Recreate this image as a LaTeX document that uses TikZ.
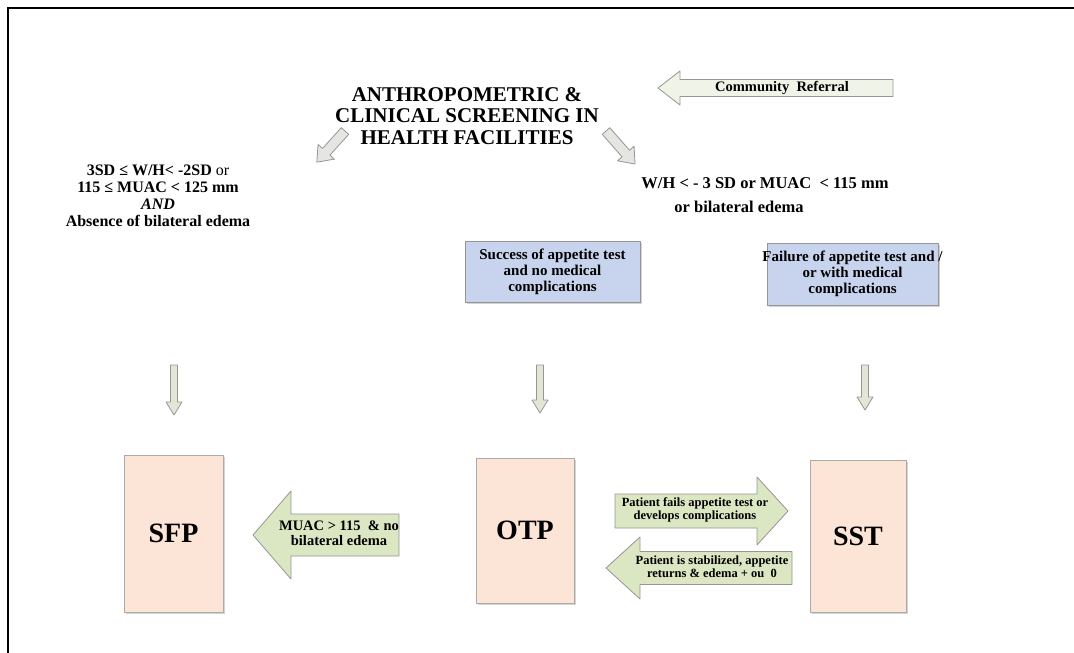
\documentclass[tikz,border=0pt]{standalone}
\usepackage{fontspec}
\setmainfont{Liberation Serif}
\usetikzlibrary{shadows}
\definecolor{arrgreen}{RGB}{219,230,194}
\definecolor{arrref}{RGB}{240,243,232}
\definecolor{arrdiag}{RGB}{229,229,225}
\definecolor{arrdown}{RGB}{226,231,213}
\definecolor{arredge}{RGB}{150,150,150}
\definecolor{boxblue}{RGB}{200,212,237}
\definecolor{boxpink}{RGB}{252,229,215}
\newcommand{\blockarr}[7]{%
  \begin{scope}[shift={#2},rotate=#3]
    \draw[#1] (0,-#5)--(#4-#7,-#5)--(#4-#7,-#6)--(#4,0)--(#4-#7,#6)--(#4-#7,#5)--(0,#5)--cycle;
  \end{scope}}
\begin{document}
\begin{tikzpicture}[x=1pt,y=-1pt,
  arrbase/.style={draw=arredge,line width=0.8pt,line join=round},
  garr/.style={arrbase,fill=arrgreen},
  rarr/.style={arrbase,fill=arrref},
  darr/.style={arrbase,fill=arrdiag},
  varr/.style={arrbase,fill=arrdown},
  bluebox/.style={draw=arredge,line width=0.6pt,fill=boxblue,drop shadow={opacity=0.35,shadow xshift=1.5pt,shadow yshift=-1.5pt},inner sep=0pt},
  pinkbox/.style={draw=arredge!80,line width=0.6pt,fill=boxpink,drop shadow={opacity=0.35,shadow xshift=1.5pt,shadow yshift=-1.5pt},inner sep=0pt},
  boxlabel/.style={font=\bfseries\fontsize{28}{30}\selectfont},
  smalltxt/.style={align=center,font=\bfseries\fontsize{15}{16}\selectfont},
  arrtxt/.style={align=center,font=\bfseries\fontsize{12.5}{13}\selectfont},
  crit/.style={font=\bfseries\fontsize{16.5}{17}\selectfont},
]
\useasboundingbox (0,0) rectangle (1074,653);
% frame
\draw[line width=2.5pt] (8,653) coordinate (fb) -- (8,8) coordinate (fc) -- (1074,8) coordinate (fr);

% title
\node[align=center,font=\bfseries\fontsize{21}{21.5}\selectfont] (title) at (467,116)
  {ANTHROPOMETRIC \&\\CLINICAL SCREENING IN\\HEALTH FACILITIES};

% community referral arrow
\blockarr{rarr}{(893,88)}{180}{235}{8.5}{17}{22}
\node[font=\bfseries\fontsize{14.5}{16}\selectfont] (ref) at (782,88) {Community\ \ Referral};

% diagonal arrows
\blockarr{darr}{(345,131)}{227.9}{42}{5}{11}{14}
\blockarr{darr}{(606,131)}{-48.7}{44}{5}{11}{14}

% left criteria
\node[align=center,font=\bfseries\fontsize{16}{17}\selectfont] (leftcrit) at (158,196)
  {3SD ≤ W/H< -2SD {\mdseries or}\\115 ≤ MUAC < 125 mm\\\textit{AND}\\Absence of bilateral edema};

% right criteria
\node[crit] (rightcrit) at (765,183) {W/H < - 3 SD or MUAC\ \ < 115 mm};
\node[crit] (rightcrit2) at (739,207) {or bilateral edema};

% blue boxes
\node[bluebox,minimum width=175pt,minimum height=61pt] (succ) at (552.5,271.5) {};
\node[smalltxt] at (succ) {Success of appetite test\\and no medical\\complications};
\node[bluebox,minimum width=171pt,minimum height=62pt] (fail) at (852.5,274) {};
\node[smalltxt] at (fail) {Failure of appetite test and /\\or with medical\\complications};

% down arrows
\blockarr{varr}{(174,365)}{-90}{50}{3.5}{8}{13}
\blockarr{varr}{(540,365)}{-90}{48}{3.5}{8}{13}
\blockarr{varr}{(865,365)}{-90}{45}{3.5}{8}{13}

% program boxes
\node[pinkbox,minimum width=99pt,minimum height=157pt] (sfp) at (173.5,533.5) {};
\node[boxlabel] at (sfp) {SFP};
\node[pinkbox,minimum width=98pt,minimum height=145pt] (otp) at (525,530.5) {};
\node[boxlabel] at (otp) {OTP};
\node[pinkbox,minimum width=96pt,minimum height=152pt] (sst) at (858,536) {};
\node[boxlabel] at (sst) {SST};

% MUAC arrow
\blockarr{garr}{(399,535)}{180}{146}{21}{44}{38}
\node[align=center,font=\bfseries\fontsize{14.5}{15}\selectfont] (muac) at (339,533) {MUAC > 115\ \ \& no\\bilateral edema};

% OTP <-> SST arrows
\blockarr{garr}{(615,511)}{0}{173}{17}{34}{31}
\node[arrtxt] (fails) at (695,510) {Patient fails appetite test or\\develops complications};
\blockarr{garr}{(792,568)}{180}{186}{16.5}{31}{34}
\node[arrtxt] (stab) at (712,567) {Patient is stabilized, appetite\\returns \& edema + ou\ \ 0};
\end{tikzpicture}
\end{document}
